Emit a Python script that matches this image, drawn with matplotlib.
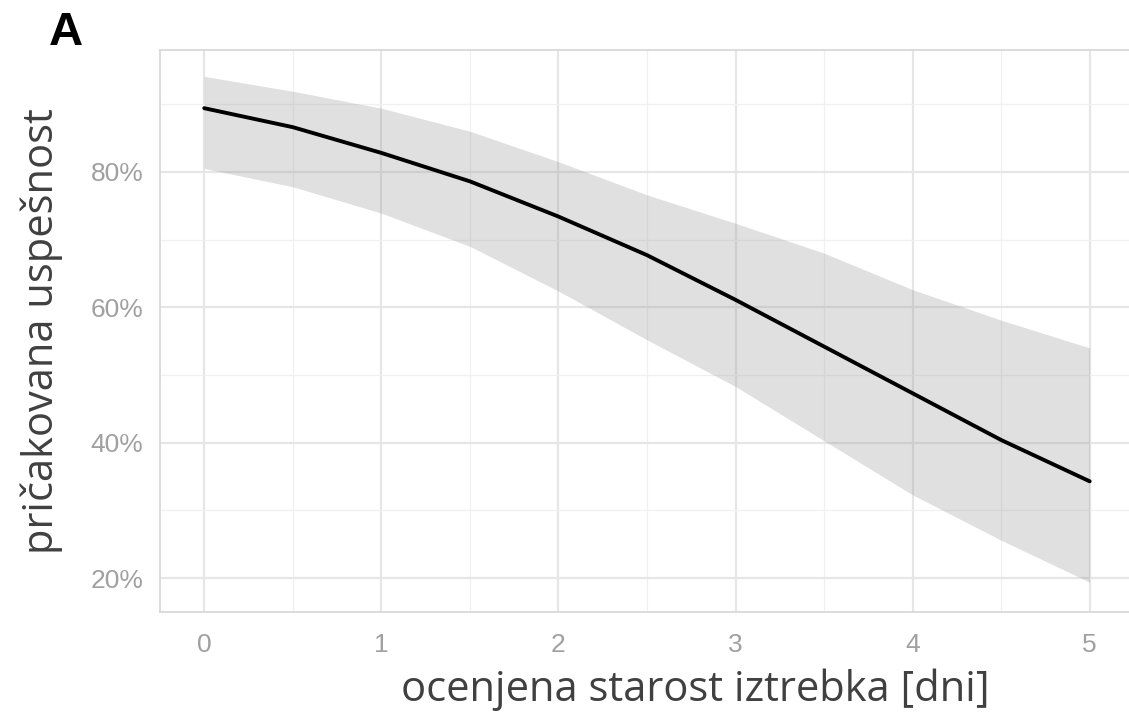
import matplotlib.pyplot as plt
from matplotlib.ticker import PercentFormatter, MultipleLocator

# estimated age of the scat [days]
days = [0, 0.5, 1, 1.5, 2, 2.5, 3, 3.5, 4, 4.5, 5]
# expected success [%] with confidence band
fit = [89.4, 86.6, 82.8, 78.6, 73.4, 67.7, 61.1, 54.2, 47.3, 40.4, 34.3]
upper = [94.1, 91.9, 89.4, 86.0, 81.5, 76.6, 72.4, 68.0, 62.6, 58.1, 54.0]
lower = [80.5, 77.8, 73.9, 69.0, 62.4, 55.2, 48.3, 40.3, 32.3, 25.6, 19.4]

x_ticks = [0, 1, 2, 3, 4, 5]
y_ticks = [20, 40, 60, 80]

fig = plt.figure(figsize=(11.29, 7.2), dpi=100)
ax = fig.add_axes([0.1417, 0.15, 0.8627, 0.7806])

# grid like ggplot
ax.set_axisbelow(True)
ax.xaxis.set_minor_locator(MultipleLocator(0.5))
ax.yaxis.set_minor_locator(MultipleLocator(10))
ax.grid(which='major', color='#e6e6e6', lw=1.6)
ax.grid(which='minor', color='#f0f0f0', lw=0.9)

ax.fill_between(days, lower, upper, color='#999999', alpha=0.3, lw=0)
ax.plot(days, fit, color='black', lw=2.8, solid_capstyle='round')

ax.set_xlim(-0.25, 5.25)
ax.set_ylim(15.0, 98.0)
ax.set_xticks(x_ticks)
ax.set_yticks(y_ticks)
ax.yaxis.set_major_formatter(PercentFormatter(decimals=0))

ax.tick_params(which='both', length=0)
ax.tick_params(axis='x', pad=15, labelsize=19, labelcolor='#a0a0a0')
ax.tick_params(axis='y', pad=12, labelsize=19, labelcolor='#a0a0a0')
for lab in ax.get_xticklabels() + ax.get_yticklabels():
    lab.set_fontfamily('Liberation Sans')

for s in ax.spines.values():
    s.set_color('#d6d6d6')
    s.set_linewidth(1.2)
ax.spines['right'].set_visible(False)

fig.text(0.6156, 1 - 690 / 720, 'ocenjena starost iztrebka [dni]',
         ha='center', va='center', fontsize=30, color='#404040',
         family='Open Sans')
fig.text(42 / 1129, 1 - 331 / 720, 'pričakovana uspešnost',
         ha='center', va='center', rotation=90, fontsize=30,
         color='#404040', family='Open Sans')
fig.text(66 / 1129, 1 - 33 / 720, 'A', ha='center', va='center',
         fontsize=34, fontweight='bold', color='black',
         family='Liberation Sans')

fig.savefig('out.png', dpi=100)
